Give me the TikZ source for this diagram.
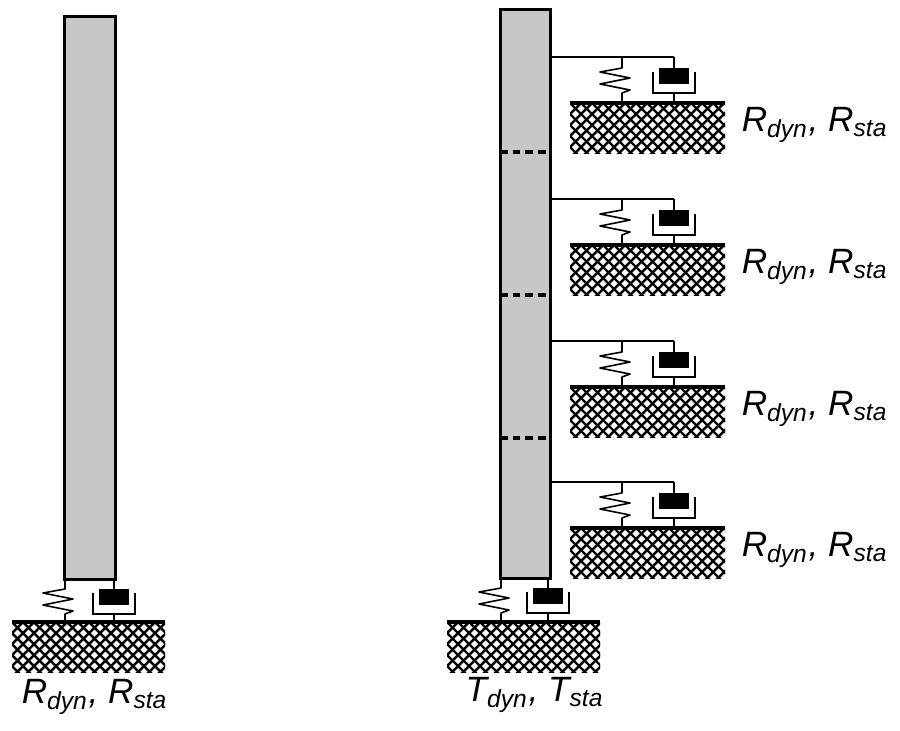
\documentclass[tikz,border=0pt]{standalone}
\usepackage{fontspec}
\setmainfont{Liberation Sans}
\begin{document}
\begin{tikzpicture}[x=0.01cm,y=-0.01cm,
  pile/.style={fill=black!22,draw=black,line width=0.9pt},
  thin/.style={line width=0.45pt},
  gline/.style={line width=1pt},
  lbl/.style={font=\fontsize{10}{12}\selectfont\itshape}]
\useasboundingbox (0,0) rectangle (900,730);
\newcommand{\ground}[3]{% x1 x2 y
  \begin{scope}
  \clip (#1,#3) rectangle (#2,#3+50);
  \foreach \k in {-88,-77,...,240}{
    \draw[line width=0.7pt] (#1+\k,#3) -- ++(60,60);
    \draw[line width=0.7pt] (#1+\k,#3) -- ++(-60,60);}
  \end{scope}
  \draw[gline] (#1,#3) -- (#2,#3);}
\newcommand{\sdunit}[4]{% xs xd ytop yground
  \draw[thin,line join=round] (#1,#3) -- (#1,#3+11) -- (#1-22,#3+15) -- (#1+8,#3+21) -- (#1-22,#3+27) -- (#1+8,#3+33) -- (#1,#3+36) -- (#1,#4);
  \draw[thin] (#2,#3) -- (#2,#3+11);
  \fill (#2-15,#3+11) rectangle (#2+15,#3+27);
  \draw[thin] (#2-21,#3+15) -- (#2-21,#3+36) -- (#2+21,#3+36) -- (#2+21,#3+15);
  \draw[thin] (#2,#3+36) -- (#2,#4);}
% left pile
\node[pile,minimum width=51*0.01cm,minimum height=563*0.01cm,inner sep=0,anchor=north west] (lp) at (63,15) {};
\sdunit{65}{114}{578}{622}
\ground{12}{165}{622}
\node[lbl] (l1) at (95,697) {R\textsubscript{dyn}, R\textsubscript{sta}};
% right pile
\node[pile,minimum width=50*0.01cm,minimum height=569*0.01cm,inner sep=0,anchor=north west] (rp) at (499,8) {};
\foreach \y in {152,295,438}{\draw[line width=0.9pt,dash pattern=on 2.2pt off 1.4pt] (500,\y) -- (548,\y);}
\sdunit{501}{548}{577}{622}
\ground{447}{600}{622}
\node[lbl] (l2) at (535,695) {T\textsubscript{dyn}, T\textsubscript{sta}};
\foreach \y/\n in {57/a,199/b,341/c,482/d}{
  \draw[thin] (549,\y) -- (674,\y);
  \sdunit{622}{674}{\y}{\y+46}
  \ground{570}{725}{\y+46}
  \node[lbl] (s\n) at (815,\y+68) {R\textsubscript{dyn}, R\textsubscript{sta}};
}
\end{tikzpicture}
\end{document}
